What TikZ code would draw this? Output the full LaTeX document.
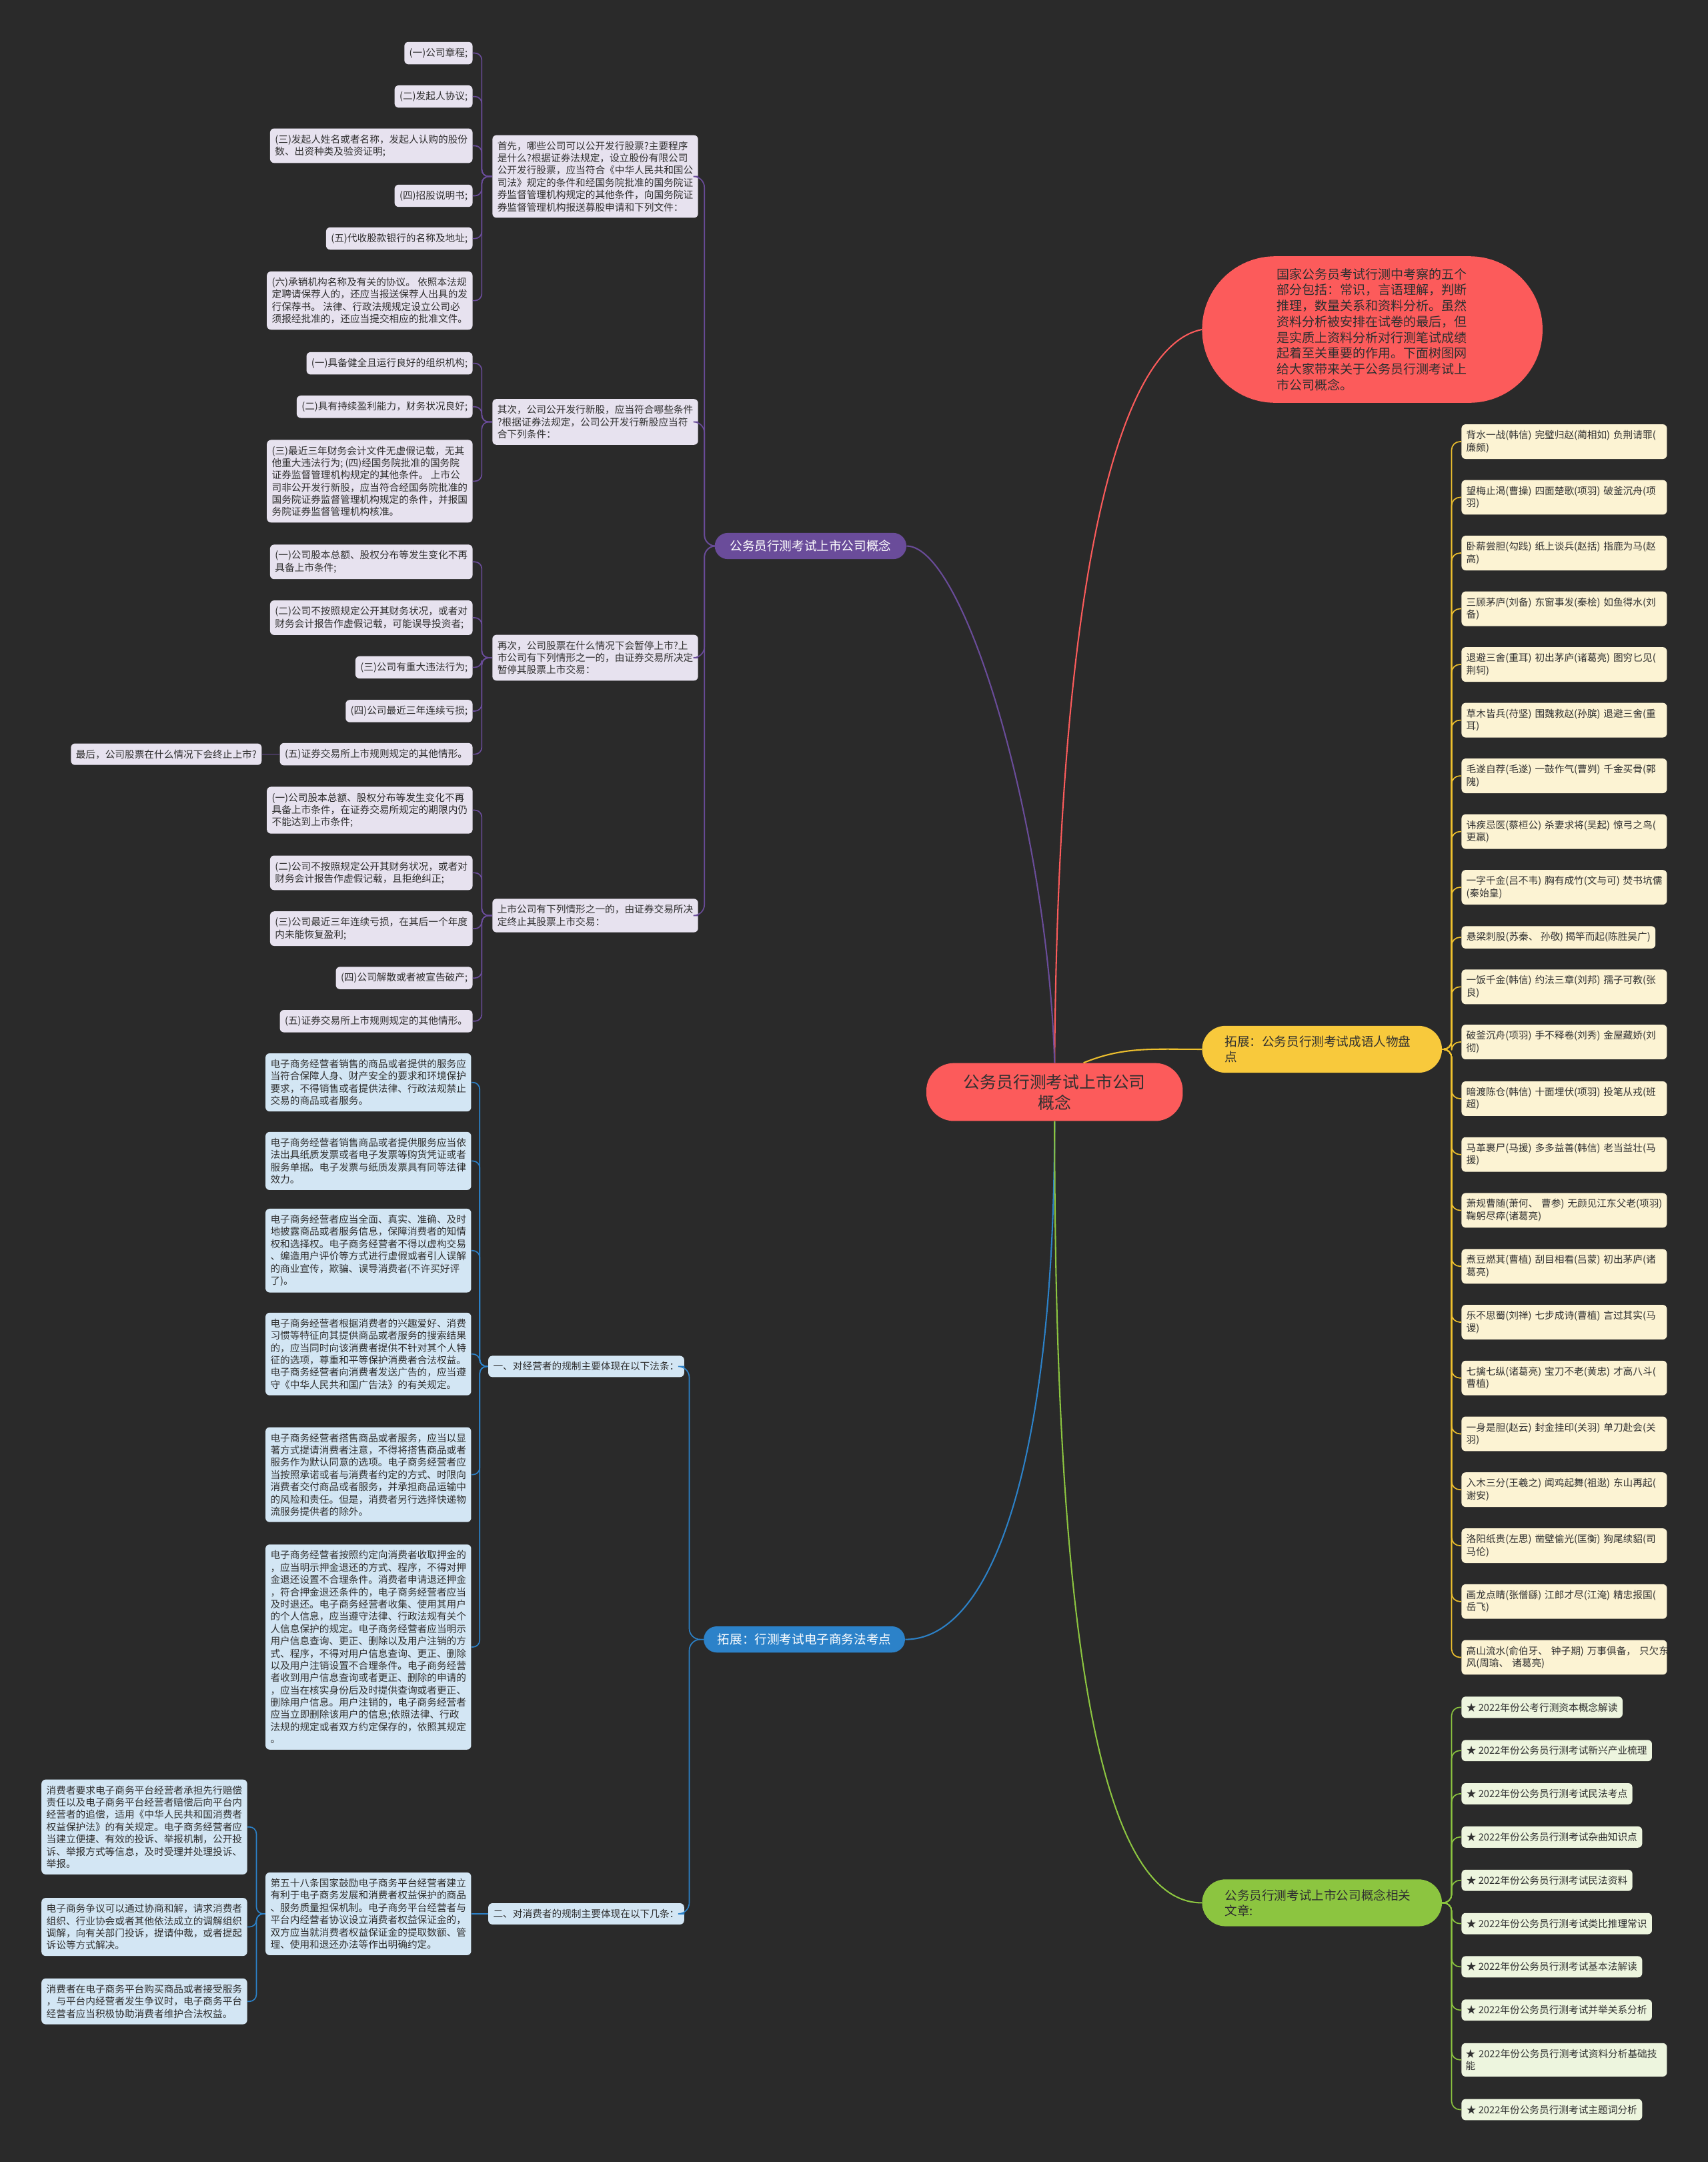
\documentclass[tikz,border=0pt]{standalone}
\usepackage{fontspec}
\setmainfont{Noto Sans CJK SC}
\definecolor{bgc}{HTML}{2A2A2A}
\definecolor{txt}{HTML}{303030}
\definecolor{redc}{HTML}{FC5B5B}
\definecolor{pmain}{HTML}{6A4C9A}
\definecolor{pfill}{HTML}{E7E2EF}
\definecolor{pline}{HTML}{6A4C9A}
\definecolor{bmain}{HTML}{2C82C9}
\definecolor{bfill}{HTML}{D3E6F4}
\definecolor{bline}{HTML}{2C82C9}
\definecolor{ymain}{HTML}{F8C93C}
\definecolor{yfill}{HTML}{FCF3D3}
\definecolor{yline}{HTML}{EFC12E}
\definecolor{gmain}{HTML}{8CC540}
\definecolor{gfill}{HTML}{EDF5DE}
\definecolor{gline}{HTML}{8CC540}
\tikzset{
  leaf/.style={rounded corners=3pt, inner xsep=3.6pt, inner ysep=4.4pt, align=left,
    font=\fontsize{7.1pt}{8.9pt}\selectfont, text=txt},
  pleaf/.style={leaf, fill=pfill},
  bleaf/.style={leaf, fill=bfill},
  yleaf/.style={leaf, fill=yfill, text width=142pt, inner xsep=3.5pt},
  gleaf/.style={leaf, fill=gfill},
  pcon/.style={draw=pline, line width=0.8pt, rounded corners=5pt},
  bcon/.style={draw=bline, line width=0.8pt, rounded corners=5pt},
  ycon/.style={draw=yline, line width=0.8pt, rounded corners=6pt},
  gcon/.style={draw=gline, line width=0.8pt, rounded corners=6pt},
  central/.style={fill=redc, text=txt, rounded corners=20pt, minimum width=186pt,
    minimum height=42pt, align=center, inner sep=0pt, font=\fontsize{12pt}{15pt}\selectfont},
  redn/.style={fill=redc, text=txt, rounded corners=53pt, text width=139pt, inner xsep=54pt,
    inner ysep=8.6pt, align=left, font=\fontsize{9.2pt}{11.5pt}\selectfont},
  pmainn/.style={fill=pmain, text=white, rounded corners=9.5pt, inner xsep=11pt, inner ysep=0pt,
    minimum height=19pt, font=\fontsize{9pt}{11pt}\selectfont},
  bmainn/.style={fill=bmain, text=white, rounded corners=9.5pt, inner xsep=10pt, inner ysep=0pt,
    minimum height=19pt, font=\fontsize{9pt}{11pt}\selectfont},
  ymainn/.style={fill=ymain, text=txt, rounded corners=17pt, text width=141pt, inner xsep=16.5pt,
    inner ysep=7pt, align=left, minimum height=34pt, font=\fontsize{9pt}{11pt}\selectfont},
  gmainn/.style={ymainn, fill=gmain},
}
\begin{document}
\begin{tikzpicture}[x=1pt,y=-1pt]
\fill[bgc] (0,0) rectangle (1239,1568);
\useasboundingbox (0,0) rectangle (1239,1568);

% ---------- main nodes ----------
\node[central] (C) at (765,792) {公务员行测考试上市公司\\概念};
\node[redn] (R) at (995.5,239) {国家公务员考试行测中考察的五个\\部分包括：常识，言语理解，判断\\推理，数量关系和资料分析。虽然\\资料分析被安排在试卷的最后，但\\是实质上资料分析对行测笔试成绩\\起着至关重要的作用。下面树图网\\给大家带来关于公务员行测考试上\\市公司概念。};
\node[pmainn] (P) at (588,396) {公务员行测考试上市公司概念};
\node[ymainn] (Y) at (959,761) {拓展：公务员行测考试成语人物盘\\点};
\node[bmainn] (Bl) at (583.5,1189) {拓展：行测考试电子商务法考点};
\node[gmainn] (G) at (959,1380) {公务员行测考试上市公司概念相关\\文章:};

% ---------- central connectors ----------
\draw[draw=redc, line width=1pt] (R.west) .. controls (815,250) and (768,400) .. (C.north);
\draw[draw=pline, line width=1pt] (P.east) .. controls (700,396) and (760,600) .. (C.north);
\draw[draw=yline, line width=1pt] ([xshift=21pt]C.north) .. controls (815,759) and (835,761) .. (Y.west);
\draw[draw=bline, line width=1pt] (C.south) .. controls (765,1060) and (720,1189) .. (Bl.east);
\draw[draw=gline, line width=1pt] (C.south) .. controls (765,1200) and (800,1380) .. (G.west);

% ---------- purple branch ----------
\node[pleaf, anchor=west] (A) at (357,128) {首先，哪些公司可以公开发行股票?主要程序\\是什么?根据证券法规定，设立股份有限公司\\公开发行股票，应当符合《中华人民共和国公\\司法》规定的条件和经国务院批准的国务院证\\券监督管理机构规定的其他条件，向国务院证\\券监督管理机构报送募股申请和下列文件：};
\node[pleaf, anchor=west] (B) at (357,306) {其次，公司公开发行新股，应当符合哪些条件\\?根据证券法规定，公司公开发行新股应当符\\合下列条件：};
\node[pleaf, anchor=west] (Cc) at (357,477) {再次，公司股票在什么情况下会暂停上市?上\\市公司有下列情形之一的，由证券交易所决定\\暂停其股票上市交易：};
\node[pleaf, anchor=west] (D) at (357,664) {上市公司有下列情形之一的，由证券交易所决\\定终止其股票上市交易：};
\coordinate (Ps) at (511,396);
\foreach \n in {A,B,Cc,D} \draw[pcon, rounded corners=8pt] (\n.east) -| (Ps) -- (P.west);

\node[pleaf, anchor=east] (A1) at (343,38.5) {(一)公司章程;};
\node[pleaf, anchor=east] (A2) at (343,70) {(二)发起人协议;};
\node[pleaf, anchor=east] (A3) at (343,105.7) {(三)发起人姓名或者名称，发起人认购的股份\\数、出资种类及验资证明;};
\node[pleaf, anchor=east] (A4) at (343,142) {(四)招股说明书;};
\node[pleaf, anchor=east] (A5) at (343,173) {(五)代收股款银行的名称及地址;};
\node[pleaf, anchor=east] (A6) at (343,218) {(六)承销机构名称及有关的协议。 依照本法规\\定聘请保荐人的，还应当报送保荐人出具的发\\行保荐书。 法律、行政法规规定设立公司必\\须报经批准的，还应当提交相应的批准文件。};
\coordinate (As) at (349.5,128);
\foreach \n in {A1,A2,A3,A4,A5,A6} \draw[pcon] (\n.east) -| (As) -- (A.west);

\node[pleaf, anchor=east] (B1) at (343,263.5) {(一)具备健全且运行良好的组织机构;};
\node[pleaf, anchor=east] (B2) at (343,295) {(二)具有持续盈利能力，财务状况良好;};
\node[pleaf, anchor=east] (B3) at (343,349) {(三)最近三年财务会计文件无虚假记载，无其\\他重大违法行为; (四)经国务院批准的国务院\\证券监督管理机构规定的其他条件。 上市公\\司非公开发行新股，应当符合经国务院批准的\\国务院证券监督管理机构规定的条件，并报国\\务院证券监督管理机构核准。};
\coordinate (Bs) at (349.5,306);
\foreach \n in {B1,B2,B3} \draw[pcon] (\n.east) -| (Bs) -- (B.west);

\node[pleaf, anchor=east] (C1) at (343,407.5) {(一)公司股本总额、股权分布等发生变化不再\\具备上市条件;};
\node[pleaf, anchor=east] (C2) at (343,448) {(二)公司不按照规定公开其财务状况，或者对\\财务会计报告作虚假记载，可能误导投资者;};
\node[pleaf, anchor=east] (C3) at (343,484) {(三)公司有重大违法行为;};
\node[pleaf, anchor=east] (C4) at (343,515.7) {(四)公司最近三年连续亏损;};
\node[pleaf, anchor=east] (C5) at (343,547) {(五)证券交易所上市规则规定的其他情形。};
\node[pleaf, anchor=east] (C5a) at (190,547) {最后，公司股票在什么情况下会终止上市?};
\coordinate (Cs) at (349.5,477);
\foreach \n in {C1,C2,C3,C4,C5} \draw[pcon] (\n.east) -| (Cs) -- (Cc.west);
\draw[pcon] (C5.west) -- (C5a.east);

\node[pleaf, anchor=east] (D1) at (343,587.6) {(一)公司股本总额、股权分布等发生变化不再\\具备上市条件，在证券交易所规定的期限内仍\\不能达到上市条件;};
\node[pleaf, anchor=east] (D2) at (343,633) {(二)公司不按照规定公开其财务状况，或者对\\财务会计报告作虚假记载，且拒绝纠正;};
\node[pleaf, anchor=east] (D3) at (343,673.5) {(三)公司最近三年连续亏损，在其后一个年度\\内未能恢复盈利;};
\node[pleaf, anchor=east] (D4) at (343,709.3) {(四)公司解散或者被宣告破产;};
\node[pleaf, anchor=east] (D5) at (343,740.6) {(五)证券交易所上市规则规定的其他情形。};
\coordinate (Ds) at (349.5,664);
\foreach \n in {D1,D2,D3,D4,D5} \draw[pcon] (\n.east) -| (Ds) -- (D.west);

% ---------- blue branch ----------
\node[bleaf, anchor=west] (E1) at (354,991) {一、对经营者的规制主要体现在以下法条：};
\node[bleaf, anchor=west] (E2) at (354,1388) {二、对消费者的规制主要体现在以下几条：};
\coordinate (Bls) at (500,1189);
\foreach \n in {E1,E2} \draw[bcon, rounded corners=8pt] (\n.east) -| (Bls) -- (Bl.west);

\node[bleaf, anchor=east] (e1) at (342,785) {电子商务经营者销售的商品或者提供的服务应\\当符合保障人身、财产安全的要求和环境保护\\要求，不得销售或者提供法律、行政法规禁止\\交易的商品或者服务。};
\node[bleaf, anchor=east] (e2) at (342,842) {电子商务经营者销售商品或者提供服务应当依\\法出具纸质发票或者电子发票等购货凭证或者\\服务单据。电子发票与纸质发票具有同等法律\\效力。};
\node[bleaf, anchor=east] (e3) at (342,907) {电子商务经营者应当全面、真实、准确、及时\\地披露商品或者服务信息，保障消费者的知情\\权和选择权。电子商务经营者不得以虚构交易\\、编造用户评价等方式进行虚假或者引人误解\\的商业宣传，欺骗、误导消费者(不许买好评\\了)。};
\node[bleaf, anchor=east] (e4) at (342,982) {电子商务经营者根据消费者的兴趣爱好、消费\\习惯等特征向其提供商品或者服务的搜索结果\\的，应当同时向该消费者提供不针对其个人特\\征的选项，尊重和平等保护消费者合法权益。\\电子商务经营者向消费者发送广告的，应当遵\\守《中华人民共和国广告法》的有关规定。};
\node[bleaf, anchor=east] (e5) at (342,1069.5) {电子商务经营者搭售商品或者服务，应当以显\\著方式提请消费者注意，不得将搭售商品或者\\服务作为默认同意的选项。电子商务经营者应\\当按照承诺或者与消费者约定的方式、时限向\\消费者交付商品或者服务，并承担商品运输中\\的风险和责任。但是，消费者另行选择快递物\\流服务提供者的除外。};
\node[bleaf, anchor=east] (e6) at (342,1194.5) {电子商务经营者按照约定向消费者收取押金的\\，应当明示押金退还的方式、程序，不得对押\\金退还设置不合理条件。消费者申请退还押金\\，符合押金退还条件的，电子商务经营者应当\\及时退还。电子商务经营者收集、使用其用户\\的个人信息，应当遵守法律、行政法规有关个\\人信息保护的规定。电子商务经营者应当明示\\用户信息查询、更正、删除以及用户注销的方\\式、程序，不得对用户信息查询、更正、删除\\以及用户注销设置不合理条件。电子商务经营\\者收到用户信息查询或者更正、删除的申请的\\，应当在核实身份后及时提供查询或者更正、\\删除用户信息。用户注销的，电子商务经营者\\应当立即删除该用户的信息;依照法律、行政\\法规的规定或者双方约定保存的，依照其规定\\。};
\coordinate (E1s) at (348,991);
\foreach \n in {e1,e2,e3,e4,e5,e6} \draw[bcon] (\n.east) -| (E1s) -- (E1.west);

\node[bleaf, anchor=east] (E2a) at (342,1388) {第五十八条国家鼓励电子商务平台经营者建立\\有利于电子商务发展和消费者权益保护的商品\\、服务质量担保机制。电子商务平台经营者与\\平台内经营者协议设立消费者权益保证金的，\\双方应当就消费者权益保证金的提取数额、管\\理、使用和退还办法等作出明确约定。};
\draw[bcon] (E2a.east) -- (E2.west);
\node[bleaf, anchor=east] (x1) at (179.5,1325) {消费者要求电子商务平台经营者承担先行赔偿\\责任以及电子商务平台经营者赔偿后向平台内\\经营者的追偿，适用《中华人民共和国消费者\\权益保护法》的有关规定。电子商务经营者应\\当建立便捷、有效的投诉、举报机制，公开投\\诉、举报方式等信息，及时受理并处理投诉、\\举报。};
\node[bleaf, anchor=east] (x2) at (179.5,1397.5) {电子商务争议可以通过协商和解，请求消费者\\组织、行业协会或者其他依法成立的调解组织\\调解，向有关部门投诉，提请仲裁，或者提起\\诉讼等方式解决。};
\node[bleaf, anchor=east] (x3) at (179.5,1451.5) {消费者在电子商务平台购买商品或者接受服务\\，与平台内经营者发生争议时，电子商务平台\\经营者应当积极协助消费者维护合法权益。};
\coordinate (E2as) at (186,1388);
\foreach \n in {x1,x2,x3} \draw[bcon] (\n.east) -| (E2as) -- (E2a.west);

% ---------- yellow branch ----------
\coordinate (Ys) at (1053,761);
\node[yleaf, anchor=west] (y1) at (1060,320.3) {背水一战(韩信)~完璧归赵(蔺相如)~负荆请罪(\\廉颇)};
\node[yleaf, anchor=west] (y2) at (1060,360.7) {望梅止渴(曹操)~四面楚歌(项羽)~破釜沉舟(项\\羽)};
\node[yleaf, anchor=west] (y3) at (1060,401.1) {卧薪尝胆(勾践)~纸上谈兵(赵括)~指鹿为马(赵\\高)};
\node[yleaf, anchor=west] (y4) at (1060,441.5) {三顾茅庐(刘备)~东窗事发(秦桧)~如鱼得水(刘\\备)};
\node[yleaf, anchor=west] (y5) at (1060,481.9) {退避三舍(重耳)~初出茅庐(诸葛亮)~图穷匕见(\\荆轲)};
\node[yleaf, anchor=west] (y6) at (1060,522.3) {草木皆兵(苻坚)~围魏救赵(孙膑)~退避三舍(重\\耳)};
\node[yleaf, anchor=west] (y7) at (1060,562.7) {毛遂自荐(毛遂)~一鼓作气(曹刿)~千金买骨(郭\\隗)};
\node[yleaf, anchor=west] (y8) at (1060,603.1) {讳疾忌医(蔡桓公)~杀妻求将(吴起)~惊弓之鸟(\\更羸)};
\node[yleaf, anchor=west] (y9) at (1060,643.5) {一字千金(吕不韦)~胸有成竹(文与可)~焚书坑儒\\(秦始皇)};
\node[leaf, fill=yfill, anchor=west] (y10) at (1060,679.8) {悬梁刺股(苏秦、~孙敬)~揭竿而起(陈胜吴广)};
\node[yleaf, anchor=west] (y11) at (1060,715.7) {一饭千金(韩信)~约法三章(刘邦)~孺子可教(张\\良)};
\node[yleaf, anchor=west] (y12) at (1060,755.7) {破釜沉舟(项羽)~手不释卷(刘秀)~金屋藏娇(刘\\彻)};
\node[yleaf, anchor=west] (y13) at (1060,796.8) {暗渡陈仓(韩信)~十面埋伏(项羽)~投笔从戎(班\\超)};
\node[yleaf, anchor=west] (y14) at (1060,837.3) {马革裹尸(马援)~多多益善(韩信)~老当益壮(马\\援)};
\node[yleaf, anchor=west] (y15) at (1060,877.8) {萧规曹随(萧何、~曹参)~无颜见江东父老(项羽)\\鞠躬尽瘁(诸葛亮)};
\node[yleaf, anchor=west] (y16) at (1060,918.4) {煮豆燃萁(曹植)~刮目相看(吕蒙)~初出茅庐(诸\\葛亮)};
\node[yleaf, anchor=west] (y17) at (1060,958.9) {乐不思蜀(刘禅)~七步成诗(曹植)~言过其实(马\\谡)};
\node[yleaf, anchor=west] (y18) at (1060,999.4) {七擒七纵(诸葛亮)~宝刀不老(黄忠)~才高八斗(\\曹植)};
\node[yleaf, anchor=west] (y19) at (1060,1039.9) {一身是胆(赵云)~封金挂印(关羽)~单刀赴会(关\\羽)};
\node[yleaf, anchor=west] (y20) at (1060,1080.4) {入木三分(王羲之)~闻鸡起舞(祖逖)~东山再起(\\谢安)};
\node[yleaf, anchor=west] (y21) at (1060,1121.0) {洛阳纸贵(左思)~凿壁偷光(匡衡)~狗尾续貂(司\\马伦)};
\node[yleaf, anchor=west] (y22) at (1060,1161.5) {画龙点睛(张僧繇)~江郎才尽(江淹)~精忠报国(\\岳飞)};
\node[yleaf, anchor=west] (y23) at (1060,1202.0) {高山流水(俞伯牙、~钟子期)~万事俱备，~只欠东\\风(周瑜、~诸葛亮)};
\foreach \i in {1,...,23} \draw[ycon] (Y.east) -- (Ys) |- (y\i.west);

% ---------- green branch ----------
\coordinate (Gs) at (1053,1380);
\node[gleaf, anchor=west] (g1) at (1060,1238.2) {★ 2022年份公考行测资本概念解读};
\node[gleaf, anchor=west] (g2) at (1060,1269.6) {★ 2022年份公务员行测考试新兴产业梳理};
\node[gleaf, anchor=west] (g3) at (1060,1300.9) {★ 2022年份公务员行测考试民法考点};
\node[gleaf, anchor=west] (g4) at (1060,1332.3) {★ 2022年份公务员行测考试杂曲知识点};
\node[gleaf, anchor=west] (g5) at (1060,1363.7) {★ 2022年份公务员行测考试民法资料};
\node[gleaf, anchor=west] (g6) at (1060,1395.1) {★ 2022年份公务员行测考试类比推理常识};
\node[gleaf, anchor=west] (g7) at (1060,1426.4) {★ 2022年份公务员行测考试基本法解读};
\node[gleaf, anchor=west] (g8) at (1060,1457.8) {★ 2022年份公务员行测考试并举关系分析};
\node[gleaf, anchor=west, text width=143pt, inner xsep=3pt] (g9) at (1060,1493.9) {★~2022年份公务员行测考试资料分析基础技\\能};
\node[gleaf, anchor=west] (g10) at (1060,1530.0) {★ 2022年份公务员行测考试主题词分析};
\foreach \i in {1,...,10} \draw[gcon] (G.east) -- (Gs) |- (g\i.west);
\end{tikzpicture}
\end{document}
